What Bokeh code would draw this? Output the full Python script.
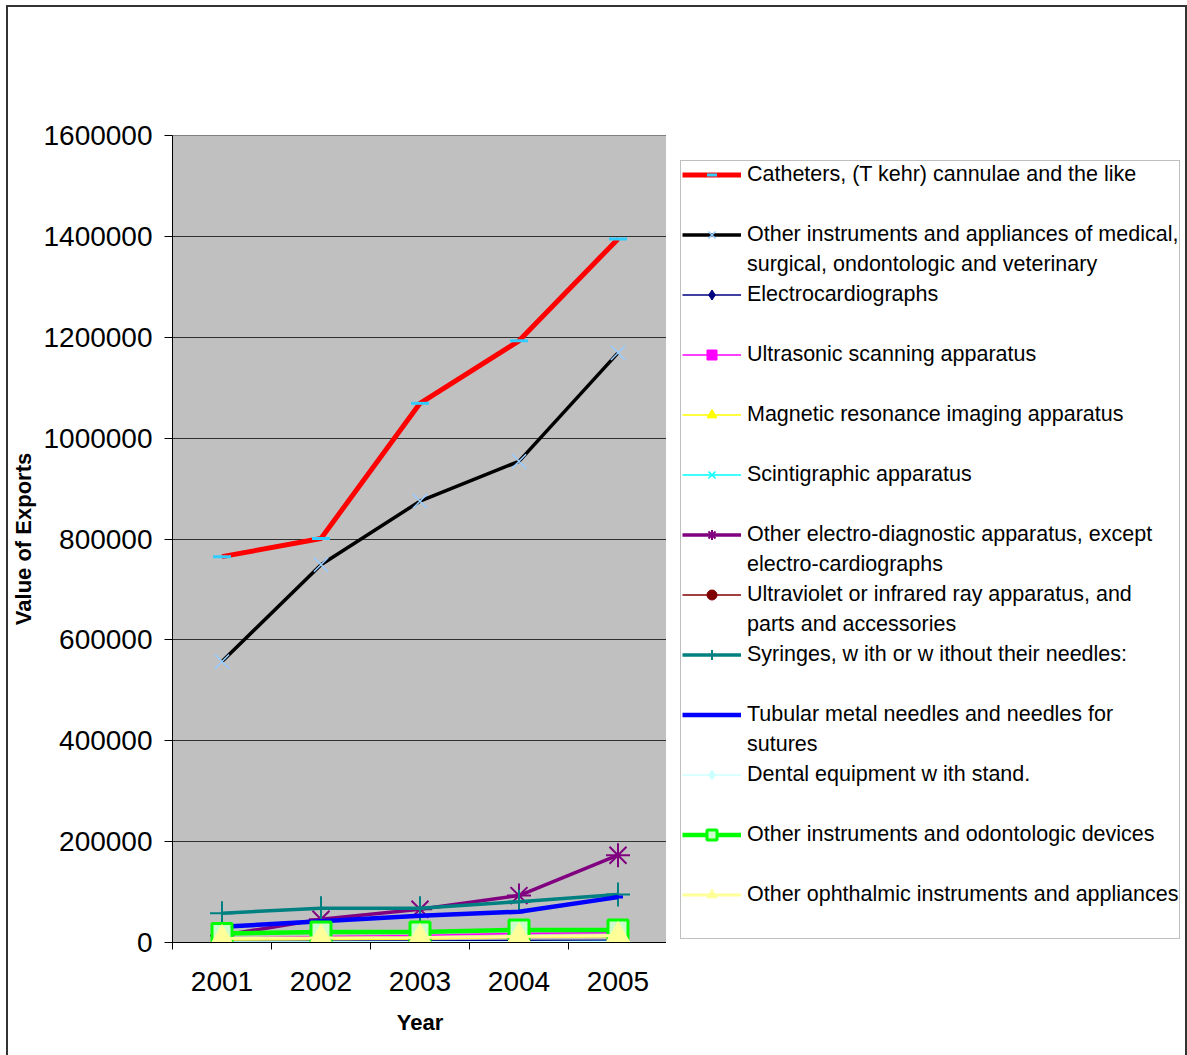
from bokeh.plotting import figure
from bokeh.layouts import row
from bokeh.models import (Legend, LegendItem, FixedTicker, BasicTickFormatter,
                          Range1d)
from bokeh.embed import file_html
from bokeh.resources import INLINE

years = ["2001", "2002", "2003", "2004", "2005"]

labels = [
    "Catheters, (T kehr) cannulae and the like",
    "Other instruments and appliances of medical,\nsurgical, ondontologic and veterinary",
    "Electrocardiographs",
    "Ultrasonic scanning apparatus",
    "Magnetic resonance imaging apparatus",
    "Scintigraphic apparatus",
    "Other electro-diagnostic apparatus, except\nelectro-cardiographs",
    "Ultraviolet or infrared ray apparatus, and\nparts and accessories",
    "Syringes, w ith or w ithout their needles:",
    "Tubular metal needles and needles for\nsutures",
    "Dental equipment w ith stand.",
    "Other instruments and odontologic devices",
    "Other ophthalmic instruments and appliances",
]

catheters = [765000, 801000, 1069000, 1193000, 1395000]
other_medical = [557000, 749000, 875000, 954000, 1169000]
electrocardiographs = [2000, 2500, 3000, 4000, 4500]
ultrasonic = [8000, 12000, 14000, 18000, 20000]
mri = [5000, 6000, 7000, 10000, 12000]
scintigraphic = [500, 1000, 1000, 1500, 2000]
other_electro = [14000, 46000, 66000, 93000, 173000]
ultraviolet = [9000, 10000, 11000, 12000, 13000]
syringes = [58000, 68000, 68000, 81000, 95000]
tubular = [31000, 42000, 53000, 61000, 90000]
dental = [1000, 1000, 1500, 1500, 2000]
odontologic = [18000, 21000, 21000, 25000, 25000]
ophthalmic = [8000, 9000, 10000, 12000, 14000]

series = [catheters, other_medical, electrocardiographs, ultrasonic, mri,
          scintigraphic, other_electro, ultraviolet, syringes, tubular,
          dental, odontologic, ophthalmic]

# style: line color, line width, marker, marker line color, marker fill, marker size, marker line width
styles = [
    ("#FF0000", 5, "dash", "#33CCFF", "#33CCFF", 18, 3),
    ("#000000", 3.5, "x", "#99CCFF", "#99CCFF", 20, 1.5),
    ("#000080", 1.5, "diamond", "#000080", "#000080", 13, 1),
    ("#FF00FF", 1.5, "square", "#FF00FF", "#FF00FF", 9, 1),
    ("#FFFF00", 1.5, "triangle", "#FFFF00", "#FFFF00", 12, 1),
    ("#00FFFF", 1.5, "x", "#00FFFF", "#00FFFF", 11, 1.5),
    ("#800080", 3.5, "asterisk", "#800080", "#800080", 24, 2),
    ("#800000", 1.5, "circle", "#800000", "#800000", 9, 1),
    ("#008080", 3.5, "cross", "#008080", "#008080", 24, 2),
    ("#0000FF", 4.5, "dash", "#0000FF", "#0000FF", 10, 3),
    ("#CCFFFF", 1.5, "diamond", "#CCFFFF", "#CCFFFF", 13, 1),
    ("#00FF00", 4.5, "square", "#00FF00", "#CCFFCC", 20, 3),
    ("#FFFF99", 3, "triangle", "#FFFF99", "#FFFF99", 24, 1),
]

x_pos = list(range(1, len(years) + 1))

# ---------------- main chart ----------------
p = figure(width=660, height=1050, output_backend="svg", toolbar_location=None,
           min_border_left=164, min_border_right=1,
           min_border_top=128, min_border_bottom=115,
           x_range=Range1d(0.5, len(years) + 0.5), y_range=Range1d(0, 1600000))
p.background_fill_color = "#C0C0C0"
p.border_fill_color = "#FFFFFF"
p.outline_line_color = "#808080"
p.outline_line_width = 1
p.margin = (5, 0, 0, 6)
p.styles = {"border-top": "2px solid #333333", "border-left": "2px solid #333333",
            "box-sizing": "border-box"}

for vals, st in zip(series, styles):
    lc, lw, mk, mlc, mfc, ms, mlw = st
    p.line(x_pos, vals, line_color=lc, line_width=lw)
    p.scatter(x_pos, vals, marker=mk, size=ms, line_color=mlc,
              fill_color=mfc, line_width=mlw)

yax = p.yaxis[0]
yax.ticker = FixedTicker(ticks=list(range(0, 1600001, 200000)))
yax.formatter = BasicTickFormatter(use_scientific=False)
yax.major_label_text_font = "Liberation Sans"
yax.major_label_text_font_size = "28px"
yax.major_label_text_color = "#000000"
yax.major_tick_out = 8
yax.major_tick_in = 0
yax.minor_tick_line_color = None
yax.axis_line_color = "#000000"
yax.major_tick_line_color = "#000000"
yax.major_label_standoff = 12
yax.axis_label = "Value of Exports"
yax.axis_label_text_font = "Liberation Sans"
yax.axis_label_text_font_style = "bold"
yax.axis_label_text_font_size = "22px"
yax.axis_label_text_color = "#000000"
yax.axis_label_standoff = 4

xax = p.xaxis[0]
xax.ticker = FixedTicker(ticks=x_pos,
                         minor_ticks=[i + 0.5 for i in range(0, len(years) + 1)])
xax.major_label_overrides = {i: y for i, y in zip(x_pos, years)}
xax.major_label_text_font = "Liberation Sans"
xax.major_label_text_font_size = "28px"
xax.major_label_text_color = "#000000"
xax.major_tick_line_color = None
xax.major_tick_out = 0
xax.major_tick_in = 0
xax.minor_tick_out = 7
xax.minor_tick_in = 0
xax.minor_tick_line_color = "#000000"
xax.axis_line_color = "#000000"
xax.major_label_standoff = 22
xax.axis_label = "Year"
xax.axis_label_text_font = "Liberation Sans"
xax.axis_label_text_font_style = "bold"
xax.axis_label_text_font_size = "22px"
xax.axis_label_text_color = "#000000"
xax.axis_label_standoff = 16

p.xgrid.grid_line_color = None
p.ygrid.grid_line_color = "#303030"
p.ygrid.grid_line_width = 1

# ---------------- legend panel ----------------
lp = figure(width=521, height=1050, output_backend="svg", toolbar_location=None,
            x_axis_location=None, y_axis_location=None,
            min_border=0, min_border_left=0, min_border_right=0,
            min_border_top=0, min_border_bottom=0,
            x_range=Range1d(-20, -10), y_range=Range1d(-20, -10))
lp.background_fill_color = "#FFFFFF"
lp.border_fill_color = "#FFFFFF"
lp.outline_line_color = None
lp.xgrid.grid_line_color = None
lp.ygrid.grid_line_color = None
lp.margin = (5, 0, 0, 0)
lp.styles = {"border-top": "2px solid #333333", "border-right": "2px solid #333333",
             "box-sizing": "border-box"}

# invisible renderer used for the text-only legend rows (wrapped second lines)
blank = lp.line(x=[], y=[], line_alpha=0)

items = []
for lab, vals, st in zip(labels, series, styles):
    lc, lw, mk, mlc, mfc, ms, mlw = st
    # same series, drawn outside this panel's visible range; used only as legend keys
    r1 = lp.line(x_pos, vals, line_color=lc, line_width=lw)
    r2 = lp.scatter(x_pos, vals, marker=mk, size=ms, line_color=mlc,
                    fill_color=mfc, line_width=mlw)
    lines = lab.split("\n")
    items.append(LegendItem(label=lines[0], renderers=[r1, r2]))
    second = lines[1] if len(lines) > 1 else " "
    items.append(LegendItem(label=second, renderers=[blank]))

# the row aligns this panel's frame with the chart frame (y 135..940)
legend = Legend(items=items, location=(14, 3))
legend.label_text_font = "Liberation Sans"
legend.label_text_font_size = "21.5px"
legend.label_text_color = "#000000"
legend.label_width = 0
legend.label_height = 25
legend.glyph_width = 59
legend.glyph_height = 25
legend.label_standoff = 6
legend.spacing = 5
legend.padding = 1
legend.margin = 0
legend.border_line_color = "#808080"
legend.border_line_width = 1
legend.background_fill_color = "#FFFFFF"
legend.background_fill_alpha = 1
lp.add_layout(legend, "center")

root = row(p, lp)
open("out.html", "w").write(file_html(root, INLINE))
